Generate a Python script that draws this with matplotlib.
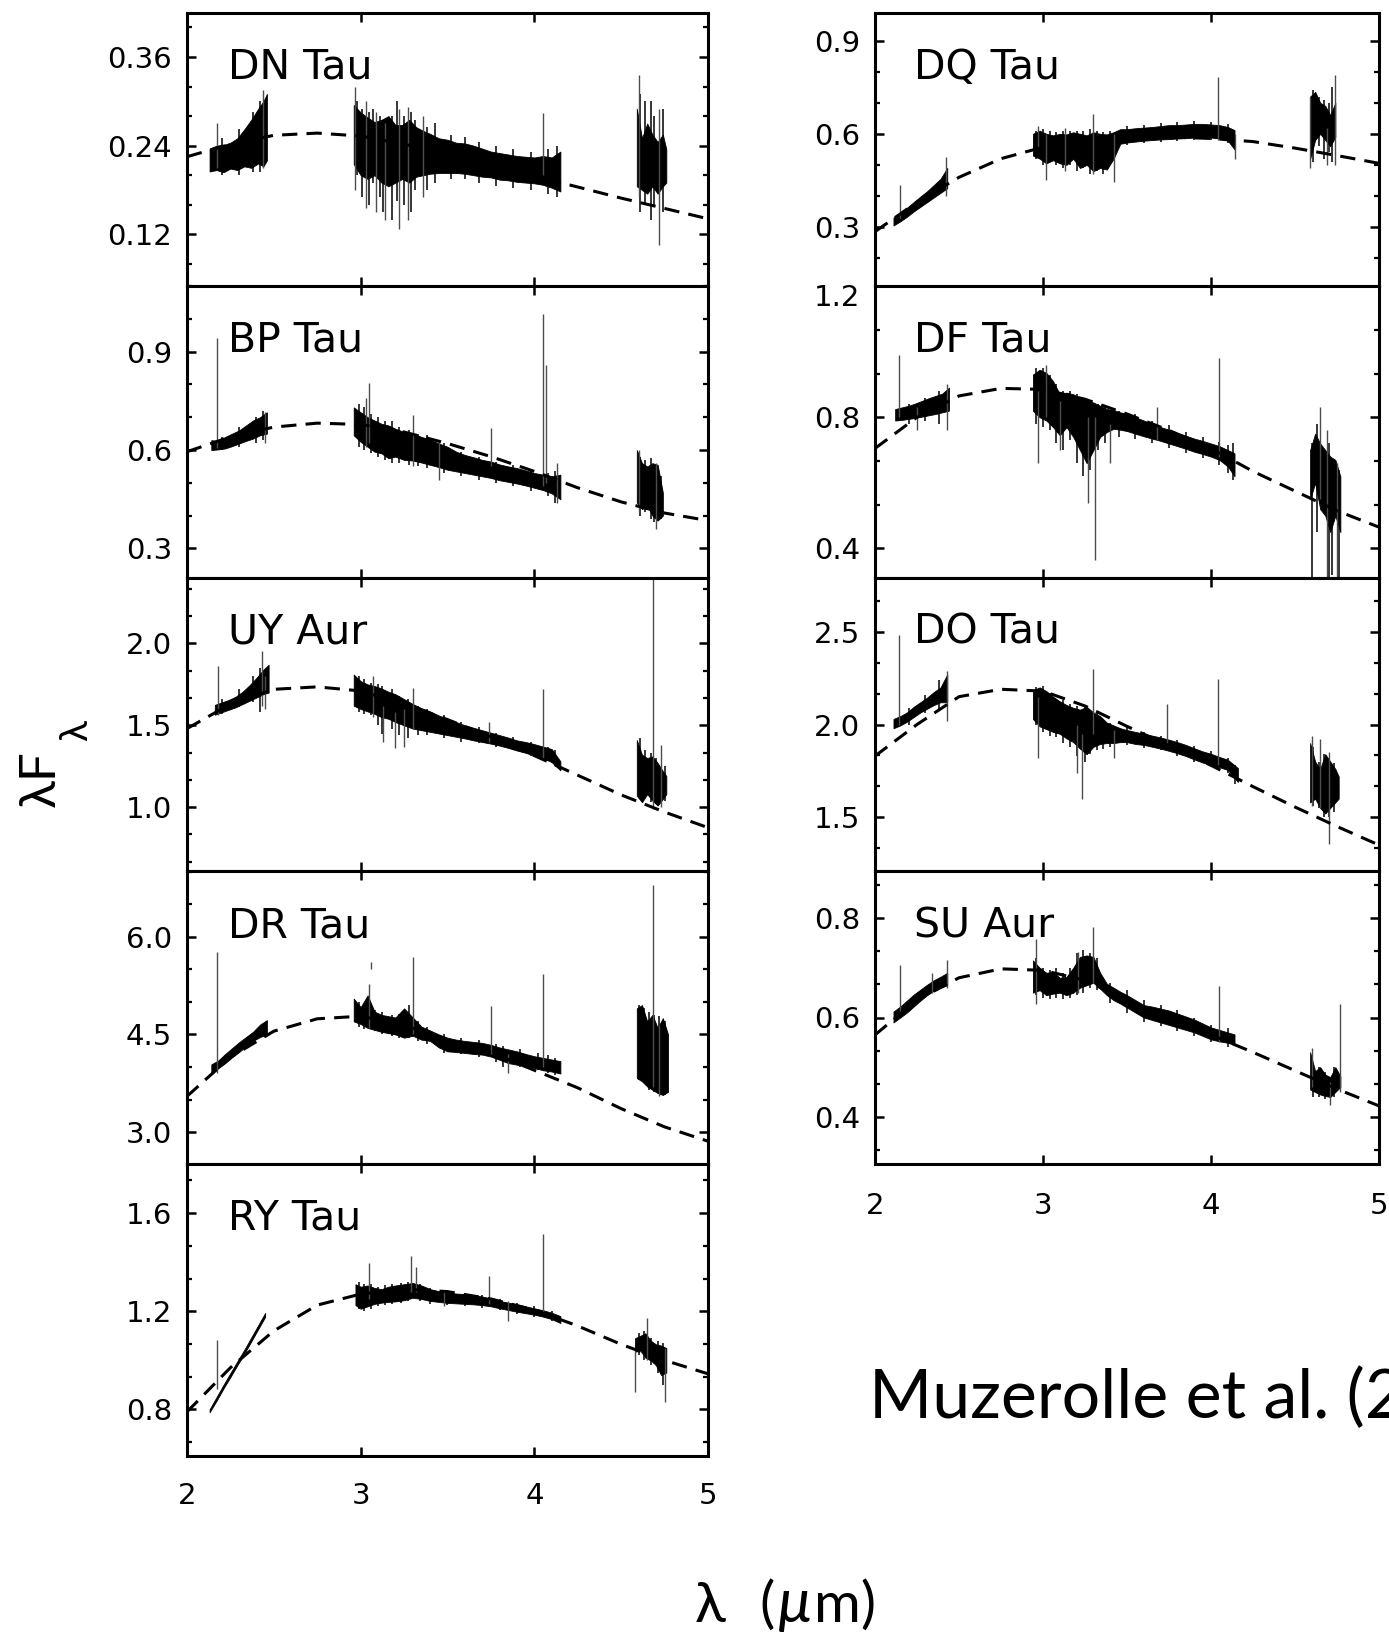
import matplotlib
matplotlib.use("Agg")
import matplotlib.pyplot as plt
from matplotlib.ticker import MultipleLocator, FixedLocator, FormatStrFormatter, NullFormatter

# ---------------- data ----------------
MODEL_X = [2.0, 2.25, 2.5, 2.75, 3.0, 3.25, 3.5, 3.75, 4.0, 4.25, 4.5, 4.75, 5.0]
X_TICKS = [2, 3, 4, 5]
X_TICK_LABELS = ["2", "3", "4", "5"]

# DN Tau
DN_MODEL = [0.225, 0.242, 0.254, 0.257, 0.253, 0.242, 0.229, 0.215, 0.199, 0.184, 0.169, 0.155, 0.141]
DN_K = [(2.13, 0.205, 0.236), (2.17, 0.207, 0.240), (2.21, 0.204, 0.241), (2.25, 0.209, 0.244),
        (2.29, 0.207, 0.250), (2.33, 0.212, 0.262), (2.37, 0.210, 0.275), (2.41, 0.216, 0.290),
        (2.44, 0.212, 0.300), (2.46, 0.220, 0.310)]
DN_L = [(2.96, 0.215, 0.295), (3.00, 0.200, 0.285), (3.04, 0.195, 0.278), (3.08, 0.200, 0.272),
        (3.12, 0.190, 0.275), (3.16, 0.185, 0.280), (3.20, 0.190, 0.268), (3.24, 0.195, 0.268),
        (3.28, 0.190, 0.275), (3.32, 0.198, 0.265), (3.36, 0.200, 0.260), (3.40, 0.202, 0.256),
        (3.45, 0.203, 0.250), (3.50, 0.203, 0.248), (3.55, 0.203, 0.244), (3.60, 0.202, 0.243),
        (3.65, 0.200, 0.240), (3.70, 0.198, 0.236), (3.75, 0.197, 0.232), (3.80, 0.194, 0.230),
        (3.85, 0.193, 0.228), (3.90, 0.191, 0.226), (3.95, 0.190, 0.225), (4.00, 0.189, 0.224),
        (4.05, 0.187, 0.226), (4.10, 0.183, 0.224), (4.15, 0.178, 0.232)]
DN_M = [(4.59, 0.185, 0.290), (4.62, 0.180, 0.250), (4.65, 0.175, 0.270), (4.68, 0.185, 0.255),
        (4.71, 0.175, 0.245), (4.74, 0.185, 0.255), (4.76, 0.190, 0.235)]
DN_SPIKES = [(2.17, 0.21, 0.27), (2.44, 0.21, 0.315), (2.97, 0.18, 0.32), (3.03, 0.155, 0.30),
             (3.09, 0.15, 0.285), (3.14, 0.14, 0.27), (3.22, 0.127, 0.29), (3.27, 0.14, 0.292),
             (3.36, 0.17, 0.28), (4.05, 0.20, 0.284), (4.60, 0.17, 0.335), (4.72, 0.105, 0.29)]
DN_NOISE = [(2.20, 0.200, 0.250), (2.30, 0.200, 0.262), (2.38, 0.205, 0.285), (2.42, 0.205, 0.300),
            (2.98, 0.200, 0.300), (3.01, 0.170, 0.290), (3.05, 0.160, 0.285), (3.07, 0.190, 0.290),
            (3.11, 0.170, 0.280), (3.13, 0.150, 0.275), (3.18, 0.140, 0.280), (3.21, 0.165, 0.300),
            (3.25, 0.160, 0.280), (3.29, 0.150, 0.285), (3.31, 0.180, 0.275), (3.38, 0.180, 0.265),
            (3.43, 0.190, 0.270), (3.52, 0.195, 0.255), (3.60, 0.195, 0.252), (3.68, 0.190, 0.245),
            (3.78, 0.185, 0.240), (3.88, 0.183, 0.235), (3.98, 0.180, 0.232), (4.08, 0.175, 0.235),
            (4.13, 0.170, 0.240), (4.61, 0.150, 0.310), (4.64, 0.160, 0.300), (4.67, 0.140, 0.300),
            (4.69, 0.160, 0.280), (4.74, 0.150, 0.290)]

# BP Tau
BP_MODEL = [0.595, 0.640, 0.670, 0.682, 0.678, 0.655, 0.620, 0.580, 0.535, 0.485, 0.442, 0.408, 0.385]
BP_K = [(2.14, 0.600, 0.630), (2.18, 0.602, 0.628), (2.22, 0.605, 0.640), (2.26, 0.612, 0.650),
        (2.30, 0.620, 0.660), (2.34, 0.628, 0.675), (2.38, 0.635, 0.690), (2.42, 0.645, 0.700),
        (2.46, 0.650, 0.715)]
BP_L = [(2.96, 0.645, 0.730), (3.00, 0.625, 0.715), (3.04, 0.610, 0.700), (3.08, 0.595, 0.690),
        (3.12, 0.590, 0.680), (3.16, 0.575, 0.675), (3.20, 0.580, 0.665), (3.25, 0.570, 0.655),
        (3.30, 0.568, 0.650), (3.35, 0.562, 0.640), (3.40, 0.555, 0.632), (3.45, 0.548, 0.620),
        (3.50, 0.540, 0.610), (3.55, 0.535, 0.595), (3.60, 0.530, 0.585), (3.65, 0.525, 0.578),
        (3.70, 0.520, 0.570), (3.75, 0.515, 0.565), (3.80, 0.508, 0.556), (3.85, 0.503, 0.550),
        (3.90, 0.498, 0.545), (3.95, 0.492, 0.538), (4.00, 0.485, 0.530), (4.05, 0.478, 0.525),
        (4.10, 0.468, 0.520), (4.15, 0.450, 0.525)]
BP_M = [(4.59, 0.440, 0.600), (4.62, 0.420, 0.560), (4.65, 0.430, 0.550), (4.68, 0.400, 0.560),
        (4.71, 0.385, 0.555), (4.74, 0.400, 0.470)]
BP_SPIKES = [(2.175, 0.605, 0.94), (2.45, 0.62, 0.715), (3.05, 0.62, 0.805), (3.03, 0.61, 0.76),
             (3.30, 0.55, 0.708), (3.45, 0.51, 0.63), (3.75, 0.55, 0.668), (4.05, 0.49, 1.015),
             (4.07, 0.50, 0.86), (4.13, 0.44, 0.56), (4.60, 0.41, 0.60), (4.70, 0.36, 0.56)]
BP_NOISE = [(2.20, 0.600, 0.640), (2.30, 0.610, 0.670), (2.40, 0.620, 0.700), (2.44, 0.630, 0.720),
            (2.99, 0.610, 0.740), (3.02, 0.600, 0.730), (3.06, 0.590, 0.710), (3.10, 0.580, 0.700),
            (3.14, 0.570, 0.690), (3.18, 0.560, 0.690), (3.22, 0.560, 0.670), (3.28, 0.555, 0.660),
            (3.33, 0.550, 0.650), (3.38, 0.545, 0.645), (3.48, 0.530, 0.620), (3.58, 0.520, 0.595),
            (3.68, 0.510, 0.580), (3.78, 0.500, 0.565), (3.88, 0.490, 0.555), (3.98, 0.475, 0.540),
            (4.08, 0.460, 0.530), (4.12, 0.440, 0.535), (4.61, 0.400, 0.580), (4.64, 0.410, 0.570),
            (4.67, 0.390, 0.575), (4.69, 0.380, 0.550), (4.73, 0.390, 0.520)]

# UY Aur
UY_MODEL = [1.480, 1.630, 1.720, 1.735, 1.710, 1.630, 1.535, 1.430, 1.315, 1.195, 1.075, 0.970, 0.875]
UY_K = [(2.16, 1.565, 1.625), (2.20, 1.580, 1.640), (2.24, 1.595, 1.655), (2.28, 1.610, 1.675),
        (2.32, 1.630, 1.705), (2.36, 1.650, 1.745), (2.40, 1.670, 1.790), (2.44, 1.690, 1.840),
        (2.47, 1.700, 1.870)]
UY_L = [(2.96, 1.620, 1.810), (3.00, 1.600, 1.770), (3.04, 1.585, 1.750), (3.08, 1.570, 1.740),
        (3.12, 1.550, 1.725), (3.16, 1.540, 1.705), (3.20, 1.520, 1.690), (3.25, 1.500, 1.660),
        (3.30, 1.480, 1.630), (3.35, 1.470, 1.605), (3.40, 1.460, 1.585), (3.45, 1.450, 1.560),
        (3.50, 1.440, 1.540), (3.55, 1.430, 1.520), (3.60, 1.420, 1.500), (3.65, 1.408, 1.485),
        (3.70, 1.398, 1.470), (3.75, 1.388, 1.455), (3.80, 1.376, 1.440), (3.85, 1.362, 1.425),
        (3.90, 1.346, 1.408), (3.95, 1.332, 1.398), (4.00, 1.315, 1.385), (4.05, 1.300, 1.370),
        (4.10, 1.275, 1.355), (4.15, 1.225, 1.280)]
UY_M = [(4.59, 1.070, 1.410), (4.62, 1.030, 1.320), (4.65, 1.080, 1.300), (4.68, 1.040, 1.310),
        (4.71, 1.010, 1.270), (4.74, 1.050, 1.220), (4.76, 1.080, 1.190)]
UY_SPIKES = [(2.18, 1.56, 1.86), (2.43, 1.62, 1.955), (2.45, 1.60, 1.80), (3.07, 1.55, 1.80),
             (3.13, 1.40, 1.62), (3.20, 1.36, 1.58), (3.25, 1.37, 1.60), (3.30, 1.48, 1.73),
             (3.74, 1.40, 1.52), (4.05, 1.29, 1.72), (4.685, 0.99, 2.40), (4.73, 1.00, 1.38)]
UY_NOISE = [(2.20, 1.570, 1.660), (2.30, 1.610, 1.720), (2.38, 1.640, 1.800), (2.42, 1.580, 1.850),
            (2.99, 1.580, 1.800), (3.02, 1.570, 1.780), (3.06, 1.560, 1.760), (3.10, 1.500, 1.750),
            (3.12, 1.450, 1.740), (3.18, 1.480, 1.720), (3.22, 1.440, 1.680), (3.27, 1.420, 1.660),
            (3.33, 1.440, 1.620), (3.38, 1.440, 1.600), (3.48, 1.420, 1.560), (3.58, 1.400, 1.520),
            (3.68, 1.390, 1.490), (3.78, 1.370, 1.455), (3.88, 1.350, 1.430), (3.98, 1.310, 1.400),
            (4.08, 1.280, 1.370), (4.12, 1.250, 1.350), (4.61, 1.050, 1.420), (4.64, 1.060, 1.350),
            (4.67, 1.030, 1.330), (4.70, 1.020, 1.300), (4.75, 1.040, 1.250)]

# DR Tau
DR_MODEL = [3.55, 4.15, 4.55, 4.74, 4.78, 4.64, 4.42, 4.22, 3.95, 3.68, 3.36, 3.08, 2.86]
DR_K = [(2.14, 3.900, 4.040), (2.18, 3.980, 4.100), (2.22, 4.060, 4.200), (2.26, 4.150, 4.290),
        (2.30, 4.230, 4.380), (2.34, 4.320, 4.460), (2.38, 4.400, 4.540), (2.42, 4.460, 4.650),
        (2.46, 4.500, 4.720)]
DR_L = [(2.96, 4.700, 5.050), (3.00, 4.660, 4.920), (3.04, 4.600, 5.100), (3.08, 4.570, 4.850),
        (3.12, 4.540, 4.800), (3.16, 4.520, 4.780), (3.20, 4.500, 4.760), (3.25, 4.450, 4.900),
        (3.30, 4.480, 4.760), (3.35, 4.420, 4.620), (3.40, 4.400, 4.560), (3.45, 4.300, 4.500),
        (3.50, 4.240, 4.450), (3.55, 4.230, 4.420), (3.60, 4.215, 4.400), (3.65, 4.200, 4.385),
        (3.70, 4.190, 4.370), (3.75, 4.160, 4.340), (3.80, 4.110, 4.300), (3.85, 4.060, 4.270),
        (3.90, 4.035, 4.240), (3.95, 4.010, 4.200), (4.00, 3.985, 4.165), (4.05, 3.950, 4.140),
        (4.10, 3.930, 4.115), (4.15, 3.900, 4.090)]
DR_M = [(4.59, 3.830, 4.900), (4.62, 3.780, 4.950), (4.65, 3.700, 4.700), (4.68, 3.650, 4.800),
        (4.71, 3.600, 4.600), (4.74, 3.570, 4.750), (4.77, 3.620, 4.500)]
DR_SPIKES = [(2.175, 3.90, 5.77), (3.05, 4.60, 5.28), (3.06, 5.50, 5.62), (3.30, 4.50, 5.69),
             (3.75, 4.20, 4.94), (3.85, 3.90, 4.20), (4.05, 4.00, 5.43), (4.685, 3.70, 6.80),
             (4.72, 3.55, 4.65)]
DR_NOISE = [(2.99, 4.62, 5.00), (3.02, 4.58, 4.95), (3.08, 4.55, 4.88), (3.12, 4.50, 4.85),
            (3.18, 4.48, 4.80), (3.22, 4.44, 4.82), (3.28, 4.45, 4.95), (3.33, 4.40, 4.70),
            (3.38, 4.35, 4.62), (3.48, 4.22, 4.50), (3.58, 4.20, 4.45), (3.68, 4.15, 4.42),
            (3.78, 4.08, 4.35), (3.82, 4.00, 4.32), (3.92, 4.00, 4.28), (4.02, 3.95, 4.22),
            (4.08, 3.90, 4.18), (4.12, 3.88, 4.14), (4.60, 3.80, 4.95), (4.63, 3.75, 4.90),
            (4.66, 3.65, 4.85), (4.69, 3.62, 4.80), (4.72, 3.58, 4.78), (4.75, 3.57, 4.70)]

# RY Tau
RY_MODEL = [0.790, 0.970, 1.120, 1.225, 1.270, 1.290, 1.280, 1.250, 1.205, 1.140, 1.065, 1.000, 0.945]
RY_K = [(2.13, 0.788, 0.800), (2.17, 0.835, 0.850), (2.21, 0.885, 0.900), (2.25, 0.932, 0.948),
        (2.29, 0.980, 0.996), (2.33, 1.027, 1.043), (2.37, 1.077, 1.093), (2.41, 1.127, 1.143),
        (2.45, 1.177, 1.193)]
RY_L = [(2.97, 1.225, 1.310), (3.00, 1.210, 1.300), (3.04, 1.220, 1.305), (3.08, 1.230, 1.295),
        (3.12, 1.235, 1.290), (3.16, 1.238, 1.300), (3.20, 1.240, 1.305), (3.25, 1.245, 1.310),
        (3.30, 1.255, 1.315), (3.35, 1.250, 1.305), (3.40, 1.242, 1.290), (3.45, 1.238, 1.282),
        (3.50, 1.234, 1.276), (3.55, 1.232, 1.272), (3.60, 1.230, 1.270), (3.65, 1.228, 1.265),
        (3.70, 1.225, 1.260), (3.75, 1.220, 1.252), (3.80, 1.212, 1.242), (3.85, 1.205, 1.235),
        (3.90, 1.198, 1.228), (3.95, 1.192, 1.220), (4.00, 1.186, 1.212), (4.05, 1.178, 1.204),
        (4.10, 1.168, 1.194), (4.15, 1.152, 1.180)]
RY_M = [(4.58, 1.035, 1.090), (4.61, 1.040, 1.100), (4.64, 1.010, 1.110), (4.67, 1.000, 1.080),
        (4.70, 0.980, 1.065), (4.73, 0.940, 1.060), (4.76, 0.950, 1.050)]
RY_SPIKES = [(2.175, 0.885, 1.084), (3.05, 1.25, 1.398), (3.29, 1.28, 1.426), (3.32, 1.28, 1.38),
             (3.48, 1.22, 1.28), (3.74, 1.23, 1.344), (3.85, 1.16, 1.24), (4.05, 1.19, 1.515),
             (4.58, 0.87, 1.04), (4.65, 1.00, 1.173), (4.75, 0.83, 1.05)]
RY_NOISE = [(2.99, 1.21, 1.32), (3.02, 1.20, 1.31), (3.06, 1.21, 1.31), (3.10, 1.22, 1.30),
            (3.14, 1.225, 1.305), (3.18, 1.23, 1.31), (3.23, 1.235, 1.315), (3.27, 1.24, 1.32),
            (3.34, 1.24, 1.31), (3.40, 1.23, 1.295), (3.50, 1.225, 1.285), (3.60, 1.22, 1.275),
            (3.70, 1.215, 1.268), (3.80, 1.205, 1.25), (3.90, 1.19, 1.235), (4.00, 1.178, 1.22),
            (4.10, 1.16, 1.20), (4.60, 1.02, 1.11), (4.63, 1.00, 1.12), (4.67, 0.98, 1.09),
            (4.71, 0.95, 1.08), (4.74, 0.90, 1.07)]

# DQ Tau
DQ_MODEL = [0.285, 0.380, 0.460, 0.520, 0.557, 0.578, 0.588, 0.590, 0.585, 0.575, 0.554, 0.530, 0.505]
DQ_K = [(2.11, 0.305, 0.330), (2.15, 0.318, 0.345), (2.19, 0.333, 0.362), (2.23, 0.350, 0.380),
        (2.27, 0.365, 0.398), (2.31, 0.380, 0.415), (2.35, 0.395, 0.435), (2.39, 0.410, 0.455),
        (2.43, 0.425, 0.490)]
DQ_L = [(2.94, 0.530, 0.600), (2.98, 0.520, 0.610), (3.02, 0.505, 0.600), (3.06, 0.515, 0.595),
        (3.10, 0.505, 0.600), (3.14, 0.500, 0.598), (3.18, 0.520, 0.605), (3.22, 0.490, 0.600),
        (3.26, 0.500, 0.595), (3.30, 0.480, 0.605), (3.34, 0.490, 0.600), (3.38, 0.485, 0.598),
        (3.42, 0.520, 0.605), (3.46, 0.568, 0.615), (3.50, 0.572, 0.615), (3.55, 0.575, 0.618),
        (3.60, 0.578, 0.620), (3.65, 0.580, 0.622), (3.70, 0.582, 0.625), (3.75, 0.583, 0.628),
        (3.80, 0.585, 0.628), (3.85, 0.586, 0.630), (3.90, 0.588, 0.632), (3.95, 0.588, 0.632),
        (4.00, 0.588, 0.630), (4.05, 0.585, 0.628), (4.10, 0.578, 0.622), (4.14, 0.550, 0.612)]
DQ_M = [(4.59, 0.520, 0.720), (4.62, 0.580, 0.735), (4.65, 0.600, 0.700), (4.68, 0.580, 0.690),
        (4.71, 0.560, 0.660), (4.74, 0.590, 0.700)]
DQ_SPIKES = [(2.15, 0.33, 0.434), (2.42, 0.40, 0.525), (2.97, 0.55, 0.625), (3.02, 0.45, 0.60),
             (3.13, 0.48, 0.62), (3.30, 0.47, 0.664), (3.42, 0.445, 0.60), (4.04, 0.58, 0.782),
             (4.14, 0.52, 0.60), (4.59, 0.49, 0.72), (4.69, 0.50, 0.62), (4.74, 0.50, 0.788)]
DQ_NOISE = [(2.96, 0.52, 0.61), (3.00, 0.50, 0.615), (3.04, 0.51, 0.61), (3.08, 0.50, 0.605),
            (3.12, 0.49, 0.61), (3.16, 0.50, 0.61), (3.20, 0.48, 0.61), (3.24, 0.49, 0.61),
            (3.28, 0.47, 0.615), (3.32, 0.48, 0.61), (3.36, 0.47, 0.605), (3.40, 0.50, 0.61),
            (3.50, 0.565, 0.625), (3.60, 0.57, 0.63), (3.70, 0.575, 0.635), (3.80, 0.578, 0.638),
            (3.90, 0.58, 0.64), (4.00, 0.58, 0.638), (4.10, 0.57, 0.632), (4.61, 0.51, 0.74),
            (4.64, 0.56, 0.72), (4.67, 0.52, 0.71), (4.70, 0.54, 0.70), (4.72, 0.51, 0.75)]

# DF Tau
DF_MODEL = [0.705, 0.800, 0.865, 0.888, 0.885, 0.855, 0.810, 0.760, 0.705, 0.635, 0.575, 0.515, 0.465]
DF_K = [(2.12, 0.790, 0.825), (2.16, 0.792, 0.830), (2.20, 0.795, 0.835), (2.24, 0.798, 0.842),
        (2.28, 0.802, 0.850), (2.32, 0.806, 0.858), (2.36, 0.810, 0.865), (2.40, 0.815, 0.872),
        (2.44, 0.820, 0.890)]
DF_L = [(2.94, 0.820, 0.930), (2.98, 0.800, 0.945), (3.02, 0.790, 0.935), (3.06, 0.770, 0.910),
        (3.10, 0.745, 0.870), (3.14, 0.770, 0.875), (3.18, 0.740, 0.870), (3.22, 0.700, 0.860),
        (3.26, 0.660, 0.850), (3.30, 0.700, 0.845), (3.34, 0.740, 0.835), (3.38, 0.755, 0.825),
        (3.42, 0.765, 0.822), (3.46, 0.762, 0.815), (3.50, 0.758, 0.810), (3.55, 0.750, 0.800),
        (3.60, 0.742, 0.790), (3.65, 0.735, 0.780), (3.70, 0.728, 0.770), (3.75, 0.720, 0.762),
        (3.80, 0.712, 0.752), (3.85, 0.704, 0.744), (3.90, 0.695, 0.735), (3.95, 0.688, 0.728),
        (4.00, 0.680, 0.720), (4.05, 0.670, 0.712), (4.10, 0.650, 0.700), (4.14, 0.620, 0.690)]
DF_M = [(4.59, 0.550, 0.700), (4.62, 0.600, 0.750), (4.65, 0.520, 0.720), (4.68, 0.500, 0.700),
        (4.71, 0.450, 0.680), (4.74, 0.500, 0.670), (4.77, 0.450, 0.620)]
DF_SPIKES = [(2.14, 0.80, 0.99), (2.25, 0.76, 0.83), (2.43, 0.76, 0.90), (2.97, 0.66, 0.88),
             (3.02, 0.80, 0.96), (3.10, 0.70, 0.85), (3.27, 0.54, 0.80), (3.31, 0.365, 0.80),
             (3.40, 0.66, 0.78), (3.68, 0.73, 0.83), (4.05, 0.68, 0.98), (4.65, 0.55, 0.83),
             (4.69, 0.30, 0.76), (4.75, 0.30, 0.66)]
DF_NOISE = [(2.20, 0.78, 0.84), (2.30, 0.79, 0.86), (2.38, 0.78, 0.88), (2.96, 0.78, 0.95),
            (3.00, 0.77, 0.95), (3.04, 0.76, 0.93), (3.08, 0.72, 0.90), (3.12, 0.70, 0.88),
            (3.16, 0.73, 0.88), (3.20, 0.66, 0.87), (3.24, 0.62, 0.86), (3.28, 0.64, 0.85),
            (3.33, 0.70, 0.84), (3.37, 0.72, 0.83), (3.45, 0.74, 0.82), (3.55, 0.735, 0.81),
            (3.65, 0.72, 0.79), (3.75, 0.705, 0.775), (3.85, 0.69, 0.755), (3.95, 0.675, 0.74),
            (4.05, 0.655, 0.725), (4.10, 0.63, 0.715), (4.13, 0.61, 0.72), (4.60, 0.30, 0.72),
            (4.63, 0.45, 0.78), (4.70, 0.30, 0.72), (4.72, 0.32, 0.65), (4.76, 0.30, 0.64)]

# DO Tau
DO_MODEL = [1.830, 2.000, 2.150, 2.190, 2.180, 2.100, 1.990, 1.885, 1.780, 1.665, 1.555, 1.450, 1.350]
DO_K = [(2.11, 1.980, 2.030), (2.15, 1.995, 2.045), (2.19, 2.015, 2.065), (2.23, 2.040, 2.095),
        (2.27, 2.065, 2.120), (2.31, 2.085, 2.145), (2.35, 2.105, 2.175), (2.39, 2.120, 2.200),
        (2.43, 2.120, 2.270)]
DO_L = [(2.94, 2.030, 2.185), (2.98, 1.990, 2.200), (3.02, 1.975, 2.180), (3.06, 1.960, 2.150),
        (3.10, 1.950, 2.125), (3.14, 1.925, 2.105), (3.18, 1.905, 2.090), (3.22, 1.870, 2.080),
        (3.26, 1.840, 2.095), (3.30, 1.880, 2.065), (3.34, 1.895, 2.045), (3.38, 1.900, 2.010),
        (3.42, 1.900, 1.995), (3.46, 1.905, 1.980), (3.50, 1.905, 1.970), (3.55, 1.895, 1.960),
        (3.60, 1.890, 1.950), (3.65, 1.880, 1.940), (3.70, 1.870, 1.930), (3.75, 1.858, 1.918),
        (3.80, 1.845, 1.905), (3.85, 1.830, 1.890), (3.90, 1.812, 1.872), (3.95, 1.795, 1.855),
        (4.00, 1.782, 1.842), (4.05, 1.770, 1.825), (4.10, 1.755, 1.810), (4.16, 1.690, 1.765)]
DO_M = [(4.59, 1.580, 1.900), (4.62, 1.600, 1.800), (4.65, 1.550, 1.760), (4.68, 1.520, 1.840),
        (4.71, 1.550, 1.800), (4.74, 1.580, 1.760), (4.76, 1.600, 1.720)]
DO_SPIKES = [(2.14, 2.00, 2.482), (2.43, 2.02, 2.29), (2.97, 1.82, 2.15), (3.20, 1.74, 2.00),
             (3.23, 1.60, 1.95), (3.30, 1.95, 2.30), (3.42, 1.82, 1.97), (3.74, 1.90, 2.11),
             (4.04, 1.78, 2.245), (4.60, 1.56, 1.94), (4.65, 1.55, 1.92), (4.70, 1.355, 1.85)]
DO_NOISE = [(2.20, 2.00, 2.09), (2.30, 2.06, 2.16), (2.38, 2.08, 2.24), (2.96, 2.00, 2.20),
            (3.00, 1.96, 2.21), (3.04, 1.94, 2.17), (3.08, 1.93, 2.14), (3.12, 1.90, 2.13),
            (3.16, 1.88, 2.11), (3.20, 1.83, 2.10), (3.25, 1.80, 2.10), (3.28, 1.84, 2.08),
            (3.32, 1.86, 2.06), (3.36, 1.87, 2.03), (3.40, 1.88, 2.01), (3.50, 1.89, 1.985),
            (3.60, 1.875, 1.96), (3.70, 1.86, 1.94), (3.80, 1.83, 1.915), (3.90, 1.80, 1.885),
            (4.00, 1.77, 1.855), (4.10, 1.74, 1.82), (4.14, 1.68, 1.78), (4.61, 1.56, 1.88),
            (4.64, 1.55, 1.80), (4.67, 1.50, 1.84), (4.70, 1.50, 1.82), (4.73, 1.53, 1.79)]

# SU Aur
SU_MODEL = [0.565, 0.635, 0.680, 0.698, 0.695, 0.675, 0.635, 0.600, 0.565, 0.530, 0.493, 0.456, 0.422]
SU_K = [(2.11, 0.590, 0.612), (2.15, 0.600, 0.622), (2.19, 0.610, 0.634), (2.23, 0.622, 0.646),
        (2.27, 0.634, 0.656), (2.31, 0.645, 0.666), (2.35, 0.654, 0.675), (2.39, 0.660, 0.682),
        (2.43, 0.665, 0.690)]
SU_L = [(2.94, 0.650, 0.715), (2.98, 0.655, 0.700), (3.02, 0.645, 0.690), (3.06, 0.648, 0.692),
        (3.10, 0.650, 0.680), (3.14, 0.645, 0.682), (3.18, 0.650, 0.700), (3.22, 0.660, 0.722),
        (3.26, 0.665, 0.725), (3.30, 0.670, 0.722), (3.34, 0.658, 0.690), (3.38, 0.645, 0.668),
        (3.42, 0.635, 0.660), (3.46, 0.628, 0.652), (3.50, 0.620, 0.645), (3.55, 0.610, 0.635),
        (3.60, 0.600, 0.625), (3.65, 0.595, 0.622), (3.70, 0.590, 0.618), (3.75, 0.585, 0.614),
        (3.80, 0.580, 0.608), (3.85, 0.575, 0.602), (3.90, 0.570, 0.596), (3.95, 0.563, 0.588),
        (4.00, 0.556, 0.580), (4.05, 0.552, 0.575), (4.10, 0.549, 0.570), (4.14, 0.545, 0.566)]
SU_M = [(4.59, 0.455, 0.530), (4.62, 0.450, 0.492), (4.65, 0.445, 0.500), (4.68, 0.442, 0.485),
        (4.71, 0.440, 0.480), (4.74, 0.450, 0.500), (4.77, 0.460, 0.482)]
SU_SPIKES = [(2.15, 0.61, 0.705), (2.34, 0.65, 0.69), (2.43, 0.66, 0.715), (2.96, 0.627, 0.759),
             (3.21, 0.65, 0.732), (3.30, 0.67, 0.783), (4.05, 0.55, 0.664), (4.60, 0.46, 0.539),
             (4.71, 0.424, 0.47), (4.77, 0.45, 0.627)]
SU_NOISE = [(2.96, 0.645, 0.72), (3.00, 0.64, 0.70), (3.04, 0.638, 0.695), (3.08, 0.64, 0.70),
            (3.12, 0.638, 0.69), (3.16, 0.64, 0.70), (3.20, 0.645, 0.73), (3.24, 0.65, 0.735),
            (3.28, 0.66, 0.73), (3.32, 0.655, 0.72), (3.40, 0.63, 0.67), (3.50, 0.61, 0.655),
            (3.60, 0.59, 0.635), (3.70, 0.582, 0.625), (3.80, 0.572, 0.615), (3.90, 0.562, 0.60),
            (4.00, 0.55, 0.585), (4.10, 0.54, 0.578), (4.61, 0.44, 0.50), (4.64, 0.44, 0.50),
            (4.68, 0.435, 0.49), (4.73, 0.44, 0.50)]

# ---------------- panel table ----------------
PANELS = [
    dict(name="DN Tau", col=0, row=0, ylim=(0.05, 0.42), major=0.12, fmt="%.2f",
         model=DN_MODEL, segs=[DN_K, DN_L, DN_M], spikes=DN_SPIKES, noise=DN_NOISE),
    dict(name="BP Tau", col=0, row=1, ylim=(0.21, 1.10), major=0.3, fmt="%.1f",
         model=BP_MODEL, segs=[BP_K, BP_L, BP_M], spikes=BP_SPIKES, noise=BP_NOISE),
    dict(name="UY Aur", col=0, row=2, ylim=(0.61, 2.40), major=0.5, fmt="%.1f",
         model=UY_MODEL, segs=[UY_K, UY_L, UY_M], spikes=UY_SPIKES, noise=UY_NOISE),
    dict(name="DR Tau", col=0, row=3, ylim=(2.51, 7.01), major=1.5, fmt="%.1f",
         model=DR_MODEL, segs=[DR_K, DR_L, DR_M], spikes=DR_SPIKES, noise=DR_NOISE),
    dict(name="RY Tau", col=0, row=4, ylim=(0.61, 1.80), major=0.4, fmt="%.1f",
         model=RY_MODEL, segs=[RY_K, RY_L, RY_M], spikes=RY_SPIKES, noise=RY_NOISE),
    dict(name="DQ Tau", col=1, row=0, ylim=(0.11, 0.99), major=0.3, fmt="%.1f",
         model=DQ_MODEL, segs=[DQ_K, DQ_L, DQ_M], spikes=DQ_SPIKES, noise=DQ_NOISE),
    dict(name="DF Tau", col=1, row=1, ylim=(0.31, 1.2001), major=0.4, fmt="%.1f",
         model=DF_MODEL, segs=[DF_K, DF_L, DF_M], spikes=DF_SPIKES, noise=DF_NOISE),
    dict(name="DO Tau", col=1, row=2, ylim=(1.21, 2.79), major=0.5, fmt="%.1f",
         model=DO_MODEL, segs=[DO_K, DO_L, DO_M], spikes=DO_SPIKES, noise=DO_NOISE),
    dict(name="SU Aur", col=1, row=3, ylim=(0.305, 0.895), major=0.2, fmt="%.1f",
         model=SU_MODEL, segs=[SU_K, SU_L, SU_M], spikes=SU_SPIKES, noise=SU_NOISE),
]
BOTTOM_ROW = {0: 4, 1: 3}

# ---------------- layout (pixels) ----------------
W, H = 1389, 1638
ROWS_PX = [(12.7, 286), (286, 578), (578, 871), (871, 1164), (1164, 1456)]
COLS_PX = [(187, 708), (875, 1379)]

TICK_FONT = ["DejaVu Sans"]
LABEL_FONT = ["Lato", "DejaVu Sans"]
TICK_SIZE = 21

fig = plt.figure(figsize=(W / 100, H / 100), dpi=100)
fig.patch.set_facecolor("white")

for p in PANELS:
    x0, x1 = COLS_PX[p["col"]]
    t, b = ROWS_PX[p["row"]]
    ax = fig.add_axes([x0 / W, 1 - b / H, (x1 - x0) / W, (b - t) / H])
    ax.set_xlim(2, 5)
    ax.set_ylim(*p["ylim"])

    # spectra (noise envelopes)
    for seg in p["segs"]:
        xs = [s[0] for s in seg]
        lo = [s[1] for s in seg]
        hi = [s[2] for s in seg]
        ax.fill_between(xs, lo, hi, color="black", lw=0.6, zorder=2)
    nx = [s[0] for s in p["noise"]]
    nlo = [s[1] for s in p["noise"]]
    nhi = [s[2] for s in p["noise"]]
    ax.vlines(nx, nlo, nhi, color="black", lw=1.1, zorder=2)
    sx = [s[0] for s in p["spikes"]]
    slo = [s[1] for s in p["spikes"]]
    shi = [s[2] for s in p["spikes"]]
    ax.vlines(sx, slo, shi, color="0.3", lw=1.0, zorder=2)

    # model
    ax.plot(MODEL_X, p["model"], color="black", lw=2.2, linestyle=(0, (5, 3)), zorder=3)

    # axes styling
    for sp in ax.spines.values():
        sp.set_linewidth(2.2)
    ax.xaxis.set_major_locator(FixedLocator(X_TICKS))
    ax.yaxis.set_major_locator(MultipleLocator(p["major"]))
    ax.yaxis.set_minor_locator(MultipleLocator(p["major"] / 3.0))
    ax.yaxis.set_major_formatter(FormatStrFormatter(p["fmt"]))
    ax.tick_params(axis="both", which="major", direction="in", length=6.5, width=1.8,
                   top=True, right=True, labelsize=TICK_SIZE, colors="black")
    ax.tick_params(axis="y", which="minor", direction="in", length=3.8, width=1.6,
                   left=True, right=True)
    ax.tick_params(axis="y", which="major", pad=10.8)
    for lab in ax.get_yticklabels():
        lab.set_family(TICK_FONT)
    if BOTTOM_ROW[p["col"]] == p["row"]:
        ax.set_xticklabels(X_TICK_LABELS, family=TICK_FONT)
        ax.tick_params(axis="x", which="major", pad=18.8 if p["col"] == 0 else 20.0)
    else:
        ax.xaxis.set_major_formatter(NullFormatter())

    if p["name"] == "DF Tau":
        # the top label sits just below the panel border in the original
        ax.set_yticks([0.4, 0.8, 1.2])
        ax.set_yticklabels(["0.4", "0.8", ""], family=TICK_FONT)
        ax.annotate("1.2", xy=(0, 1), xycoords="axes fraction", xytext=(-10.8, -8.5),
                    textcoords="offset points", ha="right", va="center",
                    fontsize=TICK_SIZE, family=TICK_FONT)

    # star name
    ax.text(0.078, 1 - 66 / (b - t), p["name"], transform=ax.transAxes,
            ha="left", va="baseline", fontsize=29.5, family=TICK_FONT)

# y label: lambda F_lambda (rotated)
fig.text(55 / W, 1 - 807 / H, "λF", rotation=90, rotation_mode="anchor",
         ha="left", va="baseline", fontsize=37, family=LABEL_FONT)
fig.text(87 / W, 1 - 741 / H, "λ", rotation=90, rotation_mode="anchor",
         ha="left", va="baseline", fontsize=28, family=LABEL_FONT)

# x label: lambda (mu m), with italic mu; pieces chained by measured width
renderer = fig.canvas.get_renderer()
base_y = 1 - 1622 / H
fig.text(695 / W, base_y, "λ", ha="left", va="baseline", fontsize=41, family=LABEL_FONT)
t_par = fig.text(759 / W, base_y, "(", ha="left", va="baseline", fontsize=41, family=LABEL_FONT)
bb = t_par.get_window_extent(renderer)
t_mu = fig.text((bb.x1 + 3) / W, base_y, "µ", ha="left", va="baseline", fontsize=43,
                family=LABEL_FONT, style="italic")
bb = t_mu.get_window_extent(renderer)
fig.text((bb.x1 + 1) / W, base_y, "m)", ha="left", va="baseline", fontsize=41,
         family=LABEL_FONT)

# citation (runs off the right edge, as in the original)
fig.text(869 / W, 1 - 1418 / H, "Muzerolle et al. (2003)", ha="left", va="baseline",
         fontsize=49, family=LABEL_FONT)

fig.savefig("out.png", dpi=100, facecolor="white")
